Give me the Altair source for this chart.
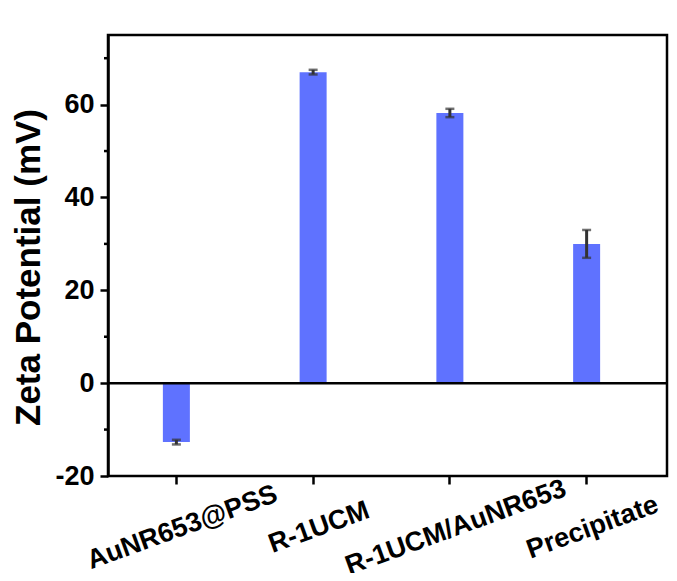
import altair as alt
import pandas as pd

categories = ["AuNR653@PSS", "R-1UCM", "R-1UCM/AuNR653", "Precipitate"]
values = [-12.7, 67.0, 58.2, 30.0]
errors = [0.5, 0.5, 0.9, 3.0]
major_ticks = [-20, 0, 20, 40, 60]
minor_ticks = [-10, 10, 30, 50, 70]

df = pd.DataFrame({
    "cat": categories,
    "value": values,
    "lo": [v - e for v, e in zip(values, errors)],
    "hi": [v + e for v, e in zip(values, errors)],
})
minor_df = pd.DataFrame({"value": minor_ticks})
zero_df = pd.DataFrame({"value": [0]})

FONT = "Liberation Sans"
BAR = "#5F72FF"
ERR = "#333333"
YTITLE = "Zeta Potential (mV)"

xscale = alt.Scale(domain=categories, range=[0, 547], paddingInner=0, paddingOuter=0)
yscale = alt.Scale(domain=[-20, 75], nice=False, zero=False)

x_axis = alt.Axis(labelAngle=-20, labelAlign="center", labelBaseline="middle",
                  labelPadding=43, labelOffset=6, labelFontSize=27,
                  tickSize=8, domain=False, labelLimit=400, labelOverlap=False,
                  labelBound=False, title=None)
y_axis = alt.Axis(values=major_ticks, title=YTITLE, labelExpr="'' + datum.value",
                  labelFontSize=27, labelPadding=6, tickSize=8,
                  titleFontSize=35, titleFontWeight="bold", titleFont=FONT,
                  titleAngle=270, titleAlign="center", titleBaseline="middle",
                  titleX=-80, titleY=232, titleColor="black")


def X():
    return alt.X("cat:N", scale=xscale, sort=categories, axis=x_axis, title=None)


def Y(field):
    return alt.Y(field, scale=yscale, axis=y_axis, title=YTITLE)


bars = alt.Chart(df).mark_bar(size=27, color=BAR).encode(x=X(), y=Y("value:Q"))

zero = alt.Chart(zero_df).mark_rule(color="black", strokeWidth=2.5).encode(
    y=Y("value:Q"), x=alt.value(0), x2=alt.value(559),
)

err_line = alt.Chart(df).mark_rule(color=ERR, strokeWidth=3).encode(
    x=X(), y=Y("lo:Q"), y2="hi:Q",
)
cap_lo = alt.Chart(df).mark_tick(color=ERR, size=9, thickness=2.5).encode(
    x=X(), y=Y("lo:Q"),
)
cap_hi = alt.Chart(df).mark_tick(color=ERR, size=9, thickness=2.5).encode(
    x=X(), y=Y("hi:Q"),
)

minor = alt.Chart(minor_df).mark_rule(color="black", strokeWidth=2.5).encode(
    y=Y("value:Q"), x=alt.value(-4), x2=alt.value(0),
)

chart = alt.layer(bars, zero, err_line, cap_lo, cap_hi, minor).properties(
    width=559, height=441,
    autosize=alt.AutoSizeParams(type="none"),
    padding={"left": 100, "top": 27, "right": 2, "bottom": 97},
    background="white",
).configure_view(
    stroke="black", strokeWidth=2.5
).configure_axis(
    grid=False, domainColor="black", domainWidth=2.5, tickColor="black", tickWidth=2.5,
    labelFont=FONT, labelFontWeight="bold", labelColor="black",
    titleFont=FONT, titleFontWeight="bold", titleColor="black",
)

chart.save("out.html", embed_options={"renderer": "svg", "actions": False})
